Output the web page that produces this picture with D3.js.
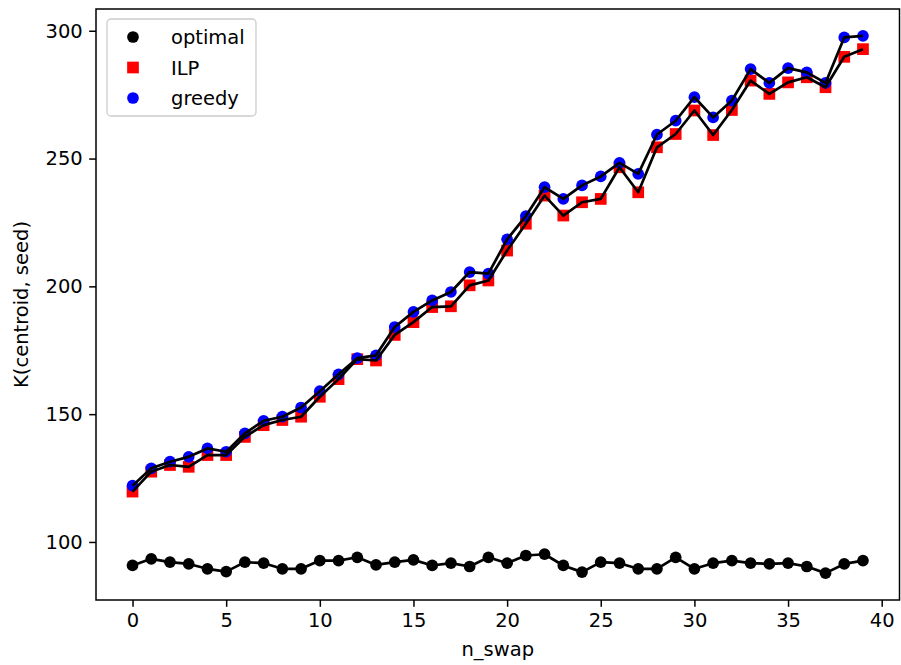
<!DOCTYPE html>
<html>
<head>
    <meta charset="UTF-8">
    <title>K(centroid, seed) vs n_swap</title>
    <script src="https://d3js.org/d3.v7.min.js"></script>
    <style type="text/css">
      body{ margin:0; background-color:white; }
      svg{ display:block; font-family:"DejaVu Sans", sans-serif; }
    </style>
</head>
<body>
    <svg id="chart"></svg>
    <script>
        // n_swap 0..39
        const nSwap = d3.range(0, 40);

        const optimal = [90.8, 93.4, 92.1, 91.4, 89.5, 88.4, 92.1, 91.7, 89.5, 89.5,
                         92.7, 92.7, 94.0, 91.0, 92.1, 93.0, 90.8, 91.7, 90.4, 94.0,
                         91.7, 94.7, 95.2, 90.8, 88.2, 92.1, 91.7, 89.5, 89.5, 94.0,
                         89.5, 91.7, 92.7, 91.7, 91.4, 91.7, 90.4, 87.8, 91.4, 92.7];

        const ilp = [119.7, 127.5, 130.1, 129.4, 134.0, 134.0, 141.1, 145.7, 147.7, 149.0,
                     156.8, 163.7, 171.5, 171.0, 181.0, 186.0, 191.9, 192.2, 200.4, 202.3,
                     214.0, 224.5, 235.5, 227.7, 232.9, 234.2, 246.6, 236.8, 254.4, 259.6,
                     268.8, 259.2, 269.0, 280.5, 275.3, 279.8, 281.8, 277.9, 289.8, 292.8];

        const greedy = [122.0, 128.8, 131.4, 133.3, 136.6, 135.3, 142.5, 147.4, 149.0, 152.6,
                        159.0, 165.6, 171.9, 173.0, 184.1, 190.0, 194.5, 197.8, 205.6, 205.0,
                        218.4, 227.5, 238.8, 234.2, 239.5, 243.0, 248.3, 244.0, 259.4, 264.8,
                        274.0, 266.1, 272.7, 285.0, 279.6, 285.4, 283.7, 279.6, 297.4, 298.0];

        const xTicks = [0, 5, 10, 15, 20, 25, 30, 35, 40];
        const yTicks = [100, 150, 200, 250, 300];

        const width = 901, height = 665;
        const box = {left:96, right:899.5, top:9, bottom:600};
        const fontSize = "19.5px";

        const svg = d3.select("#chart")
          .attr("width", width)
          .attr("height", height);

        // matplotlib-style 5% margins
        const xPad = (d3.max(nSwap) - d3.min(nSwap)) * 0.05;
        const x_scale = d3.scaleLinear()
          .domain([d3.min(nSwap) - xPad, d3.max(nSwap) + xPad])
          .range([box.left, box.right]);

        const allY = optimal.concat(ilp, greedy);
        const yPad = (d3.max(allY) - d3.min(allY)) * 0.05;
        const y_scale = d3.scaleLinear()
          .domain([d3.min(allY) - yPad, d3.max(allY) + yPad])
          .range([box.bottom, box.top]);

        const line = d3.line()
          .x((d, i) => x_scale(nSwap[i]))
          .y(d => y_scale(d));

        const r = 5.85;

        // markers
        svg.append("g").selectAll("circle")
          .data(optimal).enter().append("circle")
          .attr("cx", (d, i) => x_scale(nSwap[i]))
          .attr("cy", d => y_scale(d))
          .attr("r", r)
          .style("fill", "black");

        svg.append("g").selectAll("rect")
          .data(ilp).enter().append("rect")
          .attr("x", (d, i) => x_scale(nSwap[i]) - r)
          .attr("y", d => y_scale(d) - r)
          .attr("width", 2 * r)
          .attr("height", 2 * r)
          .style("fill", "red");

        svg.append("g").selectAll("circle")
          .data(greedy).enter().append("circle")
          .attr("cx", (d, i) => x_scale(nSwap[i]))
          .attr("cy", d => y_scale(d))
          .attr("r", r)
          .style("fill", "blue");

        // lines on top of markers
        [optimal, ilp, greedy].forEach(s => {
          svg.append("path")
            .datum(s)
            .attr("d", line)
            .attr("fill", "none")
            .attr("stroke", "black")
            .attr("stroke-width", 2.7)
            .attr("stroke-linejoin", "round");
        });

        // axes
        const xAxis = svg.append("g")
          .attr("transform", `translate(0, ${box.bottom})`)
          .call(d3.axisBottom(x_scale).tickValues(xTicks).tickSizeOuter(0).tickSize(6.8).tickPadding(6));
        const yAxis = svg.append("g")
          .attr("transform", `translate(${box.left}, 0)`)
          .call(d3.axisLeft(y_scale).tickValues(yTicks).tickSizeOuter(0).tickSize(6.8).tickPadding(6.5));

        [xAxis, yAxis].forEach(a => {
          a.select(".domain").remove();
          a.selectAll("line").attr("stroke", "#000").attr("stroke-width", 1.5);
          a.selectAll("text").style("font-size", fontSize).style("font-family", "DejaVu Sans").attr("fill", "#000");
        });

        // frame
        svg.append("rect")
          .attr("x", box.left).attr("y", box.top)
          .attr("width", box.right - box.left)
          .attr("height", box.bottom - box.top)
          .attr("fill", "none")
          .attr("stroke", "#000")
          .attr("stroke-width", 1.5);

        // axis labels
        svg.append("text")
          .attr("text-anchor", "middle")
          .attr("x", (box.left + box.right) / 2)
          .attr("y", 656)
          .style("font-size", fontSize)
          .text("n_swap");

        svg.append("text")
          .attr("text-anchor", "middle")
          .attr("transform", `translate(28, ${(box.top + box.bottom) / 2})rotate(-90)`)
          .style("font-size", fontSize)
          .text("K(centroid, seed)");

        // legend
        const legend = svg.append("g").attr("transform", "translate(107, 19)");
        legend.append("rect")
          .attr("width", 149).attr("height", 97)
          .attr("rx", 4)
          .attr("fill", "white").attr("fill-opacity", 0.8)
          .attr("stroke", "#cccccc").attr("stroke-width", 1.3);

        const items = [
          {name:"optimal", color:"black", shape:"circle"},
          {name:"ILP", color:"red", shape:"square"},
          {name:"greedy", color:"blue", shape:"circle"}
        ];
        items.forEach((it, i) => {
          const cy = 18 + i * 30.5;
          if (it.shape === "circle") {
            legend.append("circle").attr("cx", 26).attr("cy", cy).attr("r", r).attr("fill", it.color);
          } else {
            legend.append("rect").attr("x", 26 - r).attr("y", cy - r)
              .attr("width", 2 * r).attr("height", 2 * r).attr("fill", it.color);
          }
          legend.append("text")
            .attr("x", 64).attr("y", cy + 7)
            .style("font-size", fontSize)
            .attr("fill", "#000")
            .text(it.name);
        });
    </script>
</body>
</html>
